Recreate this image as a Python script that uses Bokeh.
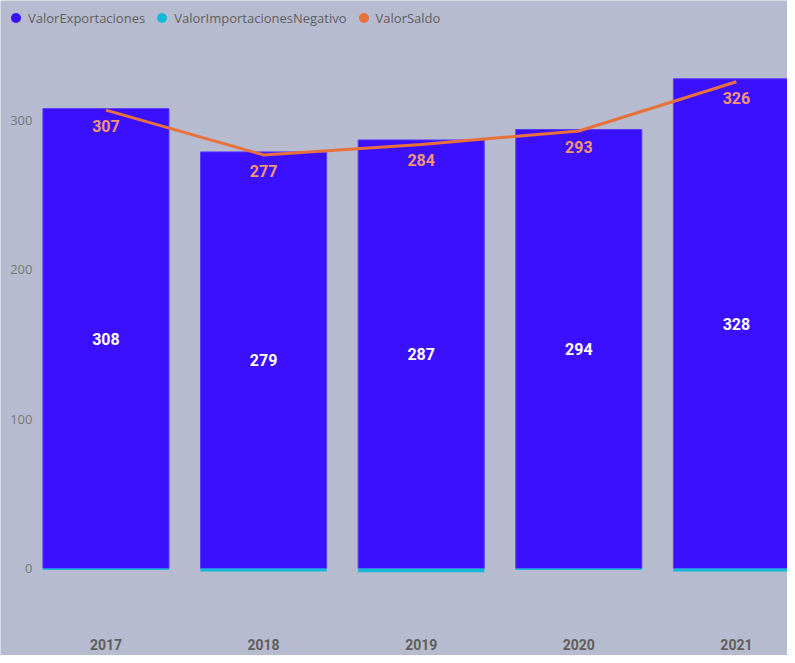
from bokeh.plotting import figure
from bokeh.models import ColumnDataSource, Range1d, FixedTicker, LabelSet, Legend, LegendItem
from bokeh.embed import file_html
from bokeh.resources import INLINE
from bokeh.core.properties import value

years = ["2017", "2018", "2019", "2020", "2021"]
exportaciones = [308, 279, 287, 294, 328]
importaciones_neg = [-1, -2, -2.5, -1, -2]
saldo = [307, 277, 284, 293, 326]
y_ticks = [0, 100, 200, 300]

BG = "#B7BBCF"
C_EXP = "#3A10FF"
C_IMP = "#12B9D6"
C_SAL = "#E8703A"

xs = list(range(len(years)))
src = ColumnDataSource(dict(
    x=xs,
    exp=exportaciones,
    imp=importaciones_neg,
    sal=saldo,
    exp_mid=[v / 2 for v in exportaciones],
    exp_txt=[str(v) for v in exportaciones],
    sal_txt=[str(v) for v in saldo],
))

p = figure(width=787, height=655, output_backend="svg", toolbar_location=None,
           x_range=Range1d(-0.669, 4.324), y_range=Range1d(-58.3, 380.4),
           min_border_left=0, min_border_right=0, min_border_top=0, min_border_bottom=0,
           background_fill_color=BG, border_fill_color=BG, outline_line_color=None)

p.xgrid.visible = False
p.ygrid.visible = False

r_exp = p.vbar(x="x", top="exp", bottom=0, width=0.8, source=src,
               fill_color=C_EXP, line_color="#5A3DFF", line_width=1)
r_imp = p.vbar(x="x", top=0, bottom="imp", width=0.8, source=src,
               fill_color=C_IMP, line_color=None)
r_sal = p.line(x="x", y="sal", source=src, line_color=C_SAL, line_width=3)

p.add_layout(LabelSet(x="x", y="exp_mid", text="exp_txt", source=src,
                      text_align="center", text_baseline="middle",
                      text_color="white", text_font=value("Roboto"),
                      text_font_style="bold", text_font_size="16px"))
p.add_layout(LabelSet(x="x", y="sal", text="sal_txt", source=src, y_offset=-16,
                      text_align="center", text_baseline="middle",
                      text_color="#F3956F", text_font=value("Roboto"),
                      text_font_style="bold", text_font_size="16px"))

# legend markers (zero-size on the chart itself)
l_exp = p.scatter(x="x", y="exp", source=src, marker="circle", size=0, fill_color=C_EXP, line_color=None)
l_imp = p.scatter(x="x", y="imp", source=src, marker="circle", size=0, fill_color=C_IMP, line_color=None)
l_sal = p.scatter(x="x", y="sal", source=src, marker="circle", size=0, fill_color=C_SAL, line_color=None)

legend = Legend(items=[
    LegendItem(label="ValorExportaciones", renderers=[l_exp], index=0),
    LegendItem(label="ValorImportacionesNegativo", renderers=[l_imp], index=0),
    LegendItem(label="ValorSaldo", renderers=[l_sal], index=0),
], orientation="horizontal", location=(3, 625),
    background_fill_alpha=0, border_line_color=None,
    padding=0, margin=0, spacing=4, glyph_width=25, glyph_height=25,
    label_standoff=-8, label_text_font="Open Sans", label_text_font_size="13px",
    label_text_color="#605E5C", label_height=14)
p.add_layout(legend, "center")

yax = p.yaxis[0]
yax.ticker = FixedTicker(ticks=y_ticks)
yax.axis_line_color = None
yax.major_tick_line_color = None
yax.minor_tick_line_color = None
yax.major_tick_in = 0
yax.major_tick_out = 0
yax.major_label_standoff = -32
yax.axis_label_standoff = 0
yax.major_label_text_font = "Open Sans"
yax.major_label_text_font_size = "13px"
yax.major_label_text_color = "#777777"

xax = p.xaxis[0]
xax.ticker = FixedTicker(ticks=xs)
xax.major_label_overrides = {i: y for i, y in zip(xs, years)}
xax.axis_line_color = None
xax.major_tick_line_color = None
xax.minor_tick_line_color = None
xax.major_tick_in = 0
xax.major_tick_out = 0
xax.major_label_standoff = -17
xax.axis_label_standoff = 0
xax.major_label_text_font = "Roboto"
xax.major_label_text_font_style = "bold"
xax.major_label_text_font_size = "14px"
xax.major_label_text_color = "#605E5C"

open("out.html", "w").write(file_html(p, INLINE))
